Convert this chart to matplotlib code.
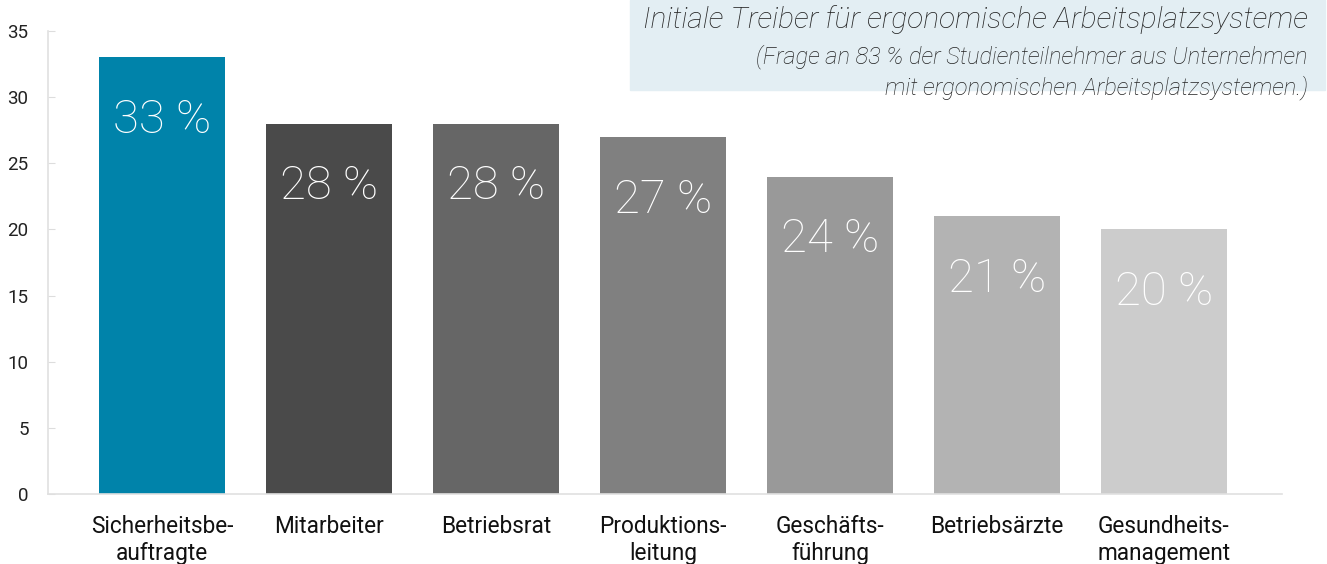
import matplotlib.pyplot as plt
import matplotlib.patches as mpatches

plt.rcParams["font.family"] = ["Roboto", "DejaVu Sans"]

categories = ["Sicherheitsbe-\nauftragte", "Mitarbeiter", "Betriebsrat", "Produktions-\nleitung",
              "Geschäfts-\nführung", "Betriebsärzte", "Gesundheits-\nmanagement"]
values = [33, 28, 28, 27, 24, 21, 20]
colors = ["#0083aa", "#4a4a4a", "#666666", "#808080", "#999999", "#b3b3b3", "#cccccc"]

title = "Initiale Treiber für ergonomische Arbeitsplatzsysteme"
subtitle = "(Frage an 83 % der Studienteilnehmer aus Unternehmen\nmit ergonomischen Arbeitsplatzsystemen.)"

fig = plt.figure(figsize=(13.27, 5.64), dpi=100)
ax = fig.add_axes([0.0362, 0.1241, 0.9299, 0.8209])

x = range(len(values))
ax.bar(x, values, width=0.755, color=colors, zorder=2)

for i, v in enumerate(values):
    ax.text(i, v - 4.75, f"{v} %", ha="center", va="center", color="white",
            fontsize=34, fontweight="light")

ax.set_xlim(-0.683, 6.707)
ax.set_ylim(0, 35)
ax.set_yticks(range(0, 36, 5))
ax.set_xticks(list(x))
ax.set_xticklabels(categories, fontsize=16.3, color="#111111", linespacing=1.25)
ax.tick_params(axis="x", length=0, pad=15)
ax.tick_params(axis="y", direction="in", length=5, color="#dddddd", labelsize=13.5,
               labelcolor="#222222", pad=14)

for s in ["top", "right"]:
    ax.spines[s].set_visible(False)
for s in ["left", "bottom"]:
    ax.spines[s].set_color("#e0e0e0")
    ax.spines[s].set_linewidth(1.2)

# title box
fig.patches.append(mpatches.Rectangle((630 / 1327, 1 - 90 / 564), (1325 - 630) / 1327, 90 / 564,
                                      transform=fig.transFigure, color="#e3eef3", zorder=0))
fig.text(1308 / 1327, 1 - 20 / 564, title, ha="right", va="center", fontsize=21.5,
         style="italic", fontweight="light", color="#222222")
fig.text(1308 / 1327, 1 - 72 / 564, subtitle, ha="right", va="center", fontsize=17,
         style="italic", fontweight="light", color="#222222", linespacing=1.35)

fig.savefig("out.png", dpi=100)
